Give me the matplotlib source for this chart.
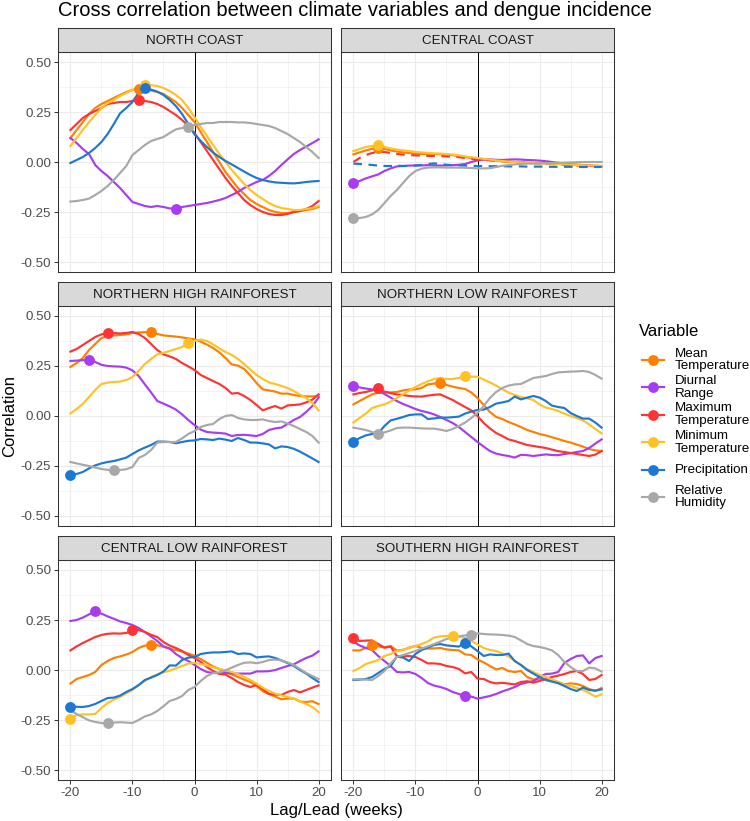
#!/usr/bin/env python3
"""Cross correlation facets: climate variables vs dengue incidence."""

import matplotlib
matplotlib.use("Agg")
import matplotlib.pyplot as plt
from matplotlib.lines import Line2D

W, H, DPI = 750, 821, 100

TITLE = "Cross correlation between climate variables and dengue incidence"
XLABEL = "Lag/Lead (weeks)"
YLABEL = "Correlation"
LEGEND_TITLE = "Variable"

LAGS = list(range(-20, 21))
XTICKS = [-20, -10, 0, 10, 20]
YTICKS = [-0.5, -0.25, 0.0, 0.25, 0.5]

PANELS = ["NORTH COAST", "CENTRAL COAST", "NORTHERN HIGH RAINFOREST",
          "NORTHERN LOW RAINFOREST", "CENTRAL LOW RAINFOREST", "SOUTHERN HIGH RAINFOREST"]
VARIABLES = ["Mean\nTemperature", "Diurnal\nRange", "Maximum\nTemperature",
             "Minimum\nTemperature", "Precipitation", "Relative\nHumidity"]
COLORS = ["#FF7F00", "#A83CF0", "#FF3333", "#FFC125", "#1C78D4", "#A8A8A8"]

# ---- NORTH COAST (lags -20..20)
NC_MEAN = [0.12, 0.16, 0.20, 0.24, 0.27, 0.29, 0.305, 0.32, 0.335, 0.35,
           0.36, 0.365, 0.362, 0.358, 0.35, 0.34, 0.32, 0.30, 0.27, 0.235,
           0.20, 0.15, 0.10, 0.05, 0.0, -0.05, -0.09, -0.13, -0.16, -0.19,
           -0.21, -0.225, -0.24, -0.25, -0.255, -0.255, -0.25, -0.245, -0.24, -0.235, -0.225]
NC_DIURNAL = [0.12, 0.095, 0.065, 0.04, -0.015, -0.045, -0.07, -0.10, -0.13, -0.165,
              -0.20, -0.21, -0.22, -0.225, -0.22, -0.225, -0.232, -0.233, -0.225, -0.22,
              -0.215, -0.21, -0.205, -0.198, -0.19, -0.18, -0.165, -0.15, -0.13, -0.115,
              -0.10, -0.09, -0.07, -0.045, -0.015, 0.013, 0.04, 0.06, 0.077, 0.095, 0.113]
NC_MAX = [0.16, 0.19, 0.22, 0.24, 0.255, 0.27, 0.29, 0.295, 0.30, 0.30,
          0.305, 0.308, 0.305, 0.30, 0.29, 0.275, 0.255, 0.235, 0.21, 0.18,
          0.145, 0.10, 0.055, 0.01, -0.035, -0.08, -0.12, -0.155, -0.19, -0.215,
          -0.235, -0.25, -0.26, -0.265, -0.265, -0.26, -0.25, -0.245, -0.235, -0.22, -0.195]
NC_MIN = [0.08, 0.12, 0.16, 0.20, 0.235, 0.27, 0.295, 0.31, 0.33, 0.345,
          0.36, 0.375, 0.385, 0.384, 0.38, 0.37, 0.355, 0.335, 0.31, 0.27,
          0.225, 0.175, 0.13, 0.085, 0.04, 0.0, -0.04, -0.075, -0.11, -0.14,
          -0.165, -0.185, -0.205, -0.22, -0.23, -0.235, -0.24, -0.24, -0.235, -0.23, -0.22]
NC_PRECIP = [-0.005, 0.01, 0.025, 0.045, 0.07, 0.10, 0.14, 0.19, 0.243, 0.27,
             0.30, 0.347, 0.368, 0.362, 0.352, 0.335, 0.31, 0.28, 0.24, 0.19,
             0.138, 0.105, 0.075, 0.047, 0.025, 0.005, -0.012, -0.03, -0.048, -0.065,
             -0.08, -0.09, -0.097, -0.102, -0.104, -0.106, -0.107, -0.104, -0.1, -0.097, -0.095]
NC_RH = [-0.198, -0.195, -0.19, -0.183, -0.165, -0.145, -0.12, -0.09, -0.055, -0.02,
         0.035, 0.06, 0.085, 0.105, 0.115, 0.125, 0.145, 0.163, 0.17, 0.177,
         0.185, 0.19, 0.195, 0.195, 0.20, 0.20, 0.20, 0.198, 0.198, 0.195,
         0.19, 0.185, 0.18, 0.17, 0.155, 0.14, 0.12, 0.10, 0.075, 0.05, 0.02]

# ---- CENTRAL COAST
CC_MEAN = [0.038, 0.048, 0.058, 0.066, 0.072, 0.065, 0.058, 0.052, 0.048, 0.045,
           0.042, 0.04, 0.04, 0.04, 0.039, 0.037, 0.034, 0.03, 0.025, 0.02,
           0.016, 0.013, 0.01, 0.007, 0.004, 0.002, 0.0, -0.002, -0.003, -0.004,
           -0.005, -0.006, -0.008, -0.01, -0.012, -0.014, -0.016, -0.017, -0.018, -0.019, -0.02]
CC_DIURNAL = [-0.107, -0.095, -0.082, -0.072, -0.062, -0.045, -0.032, -0.022, -0.02, -0.018,
              -0.017, -0.017, -0.016, -0.017, -0.018, -0.017, -0.016, -0.014, -0.01, 0.0,
              0.008, 0.012, 0.013, 0.011, 0.01, 0.012, 0.013, 0.012, 0.01, 0.009,
              0.007, 0.004, 0.0, -0.004, -0.008, -0.011, -0.013, -0.015, -0.017, -0.02, -0.022]
CC_MAX = [0.0, 0.02, 0.035, 0.045, 0.05, 0.05, 0.045, 0.04, 0.037, 0.035,
          0.033, 0.032, 0.03, 0.03, 0.029, 0.028, 0.026, 0.024, 0.02, 0.016,
          0.012, 0.01, 0.008, 0.006, 0.004, 0.002, 0.0, -0.002, -0.004, -0.006,
          -0.007, -0.009, -0.01, -0.012, -0.014, -0.015, -0.017, -0.018, -0.02, -0.021, -0.022]
CC_MIN = [0.055, 0.065, 0.075, 0.08, 0.083, 0.075, 0.068, 0.062, 0.058, 0.055,
          0.05, 0.048, 0.045, 0.043, 0.042, 0.04, 0.037, 0.033, 0.028, 0.024,
          0.02, 0.016, 0.012, 0.008, 0.005, 0.002, 0.0, -0.002, -0.004, -0.005,
          -0.006, -0.008, -0.009, -0.01, -0.012, -0.013, -0.015, -0.016, -0.017, -0.018, -0.02]
CC_PRECIP = [-0.008, -0.01, -0.012, -0.015, -0.018, -0.02, -0.02, -0.018, -0.02, -0.02,
             -0.018, -0.015, -0.01, -0.007, -0.01, -0.014, -0.016, -0.017, -0.018, -0.019,
             -0.02, -0.02, -0.021, -0.021, -0.021, -0.022, -0.022, -0.022, -0.023, -0.023,
             -0.023, -0.023, -0.024, -0.024, -0.024, -0.024, -0.025, -0.025, -0.025, -0.025, -0.025]
CC_RH = [-0.282, -0.28, -0.275, -0.262, -0.24, -0.205, -0.17, -0.14, -0.105, -0.07,
         -0.045, -0.033, -0.028, -0.027, -0.027, -0.028, -0.028, -0.028, -0.029, -0.03,
         -0.032, -0.032, -0.031, -0.025, -0.019, -0.015, -0.012, -0.01, -0.008, -0.008,
         -0.007, -0.007, -0.005, -0.004, -0.003, -0.002, -0.001, 0.0, 0.0, 0.0, 0.0]

# ---- NORTHERN HIGH RAINFOREST
NHR_MEAN = [0.245, 0.265, 0.29, 0.33, 0.36, 0.39, 0.40, 0.403, 0.405, 0.408,
            0.415, 0.418, 0.419, 0.42, 0.41, 0.403, 0.40, 0.397, 0.393, 0.388,
            0.383, 0.372, 0.357, 0.34, 0.318, 0.29, 0.258, 0.252, 0.235, 0.202,
            0.165, 0.133, 0.128, 0.122, 0.112, 0.112, 0.105, 0.1, 0.098, 0.098, 0.1]
NHR_DIURNAL = [0.275, 0.277, 0.279, 0.28, 0.27, 0.256, 0.25, 0.248, 0.247, 0.242,
               0.228, 0.2, 0.158, 0.118, 0.075, 0.062, 0.048, 0.032, 0.008, -0.02,
               -0.045, -0.068, -0.08, -0.083, -0.085, -0.088, -0.1, -0.095, -0.094, -0.097,
               -0.1, -0.09, -0.07, -0.062, -0.058, -0.04, -0.02, -0.005, 0.02, 0.05, 0.092]
NHR_MAX = [0.322, 0.335, 0.355, 0.375, 0.395, 0.408, 0.417, 0.415, 0.413, 0.415,
           0.42, 0.41, 0.39, 0.36, 0.33, 0.308, 0.298, 0.285, 0.265, 0.248,
           0.23, 0.205, 0.19, 0.175, 0.16, 0.14, 0.112, 0.115, 0.1, 0.08,
           0.055, 0.028, 0.04, 0.05, 0.037, 0.053, 0.055, 0.058, 0.068, 0.082, 0.108]
NHR_MIN = [0.013, 0.035, 0.06, 0.095, 0.13, 0.16, 0.167, 0.17, 0.172, 0.18,
           0.195, 0.225, 0.26, 0.285, 0.308, 0.316, 0.325, 0.335, 0.345, 0.363,
           0.375, 0.382, 0.375, 0.358, 0.338, 0.32, 0.305, 0.285, 0.26, 0.232,
           0.205, 0.185, 0.168, 0.16, 0.15, 0.14, 0.125, 0.107, 0.09, 0.065, 0.028]
NHR_PRECIP = [-0.295, -0.29, -0.28, -0.262, -0.247, -0.237, -0.23, -0.225, -0.217, -0.208,
              -0.19, -0.172, -0.158, -0.145, -0.128, -0.128, -0.13, -0.136, -0.13, -0.124,
              -0.122, -0.115, -0.117, -0.12, -0.113, -0.118, -0.125, -0.11, -0.12, -0.133,
              -0.133, -0.137, -0.142, -0.162, -0.152, -0.155, -0.164, -0.178, -0.195, -0.212, -0.23]
NHR_RH = [-0.23, -0.237, -0.244, -0.25, -0.258, -0.265, -0.269, -0.272, -0.27, -0.266,
          -0.255, -0.21, -0.195, -0.17, -0.133, -0.13, -0.13, -0.13, -0.112, -0.09,
          -0.075, -0.055, -0.045, -0.04, -0.015, 0.0, 0.005, -0.01, -0.017, -0.02,
          -0.02, -0.017, -0.025, -0.03, -0.027, -0.038, -0.05, -0.065, -0.08, -0.1, -0.133]

# ---- NORTHERN LOW RAINFOREST
NLR_MEAN = [0.058, 0.075, 0.092, 0.108, 0.117, 0.118, 0.118, 0.12, 0.128, 0.133,
            0.133, 0.14, 0.158, 0.162, 0.165, 0.155, 0.147, 0.14, 0.135, 0.118,
            0.09, 0.055, 0.02, -0.005, -0.015, -0.03, -0.042, -0.055, -0.07, -0.08,
            -0.09, -0.097, -0.106, -0.115, -0.125, -0.133, -0.143, -0.153, -0.165, -0.172, -0.175]
NLR_DIURNAL = [0.15, 0.143, 0.137, 0.133, 0.128, 0.11, 0.092, 0.075, 0.06, 0.048,
               0.035, 0.025, 0.018, 0.008, -0.005, -0.02, -0.035, -0.055, -0.08, -0.105,
               -0.13, -0.153, -0.175, -0.188, -0.195, -0.2, -0.208, -0.194, -0.196, -0.2,
               -0.196, -0.192, -0.195, -0.196, -0.19, -0.186, -0.18, -0.175, -0.16, -0.138, -0.117]
NLR_MAX = [0.108, 0.115, 0.12, 0.128, 0.14, 0.122, 0.114, 0.108, 0.105, 0.1,
           0.098, 0.097, 0.102, 0.106, 0.108, 0.094, 0.08, 0.062, 0.045, 0.028,
           0.0, -0.035, -0.062, -0.085, -0.1, -0.117, -0.125, -0.135, -0.145, -0.15,
           -0.155, -0.16, -0.168, -0.176, -0.18, -0.185, -0.19, -0.195, -0.2, -0.193, -0.175]
NLR_MIN = [-0.033, -0.01, 0.012, 0.04, 0.05, 0.058, 0.072, 0.09, 0.108, 0.128,
           0.145, 0.16, 0.173, 0.185, 0.19, 0.185, 0.185, 0.19, 0.198, 0.197,
           0.196, 0.182, 0.168, 0.152, 0.135, 0.117, 0.105, 0.095, 0.088, 0.08,
           0.058, 0.042, 0.035, 0.025, 0.012, 0.0, -0.01, -0.022, -0.042, -0.065, -0.087]
NLR_PRECIP = [-0.13, -0.11, -0.097, -0.09, -0.087, -0.05, -0.022, -0.014, -0.005, 0.005,
              0.008, 0.008, -0.015, -0.012, -0.008, -0.008, -0.006, -0.003, 0.012, 0.022,
              0.03, 0.032, 0.045, 0.062, 0.068, 0.075, 0.097, 0.083, 0.092, 0.1,
              0.092, 0.075, 0.052, 0.045, 0.04, 0.015, 0.0, -0.013, -0.013, -0.033, -0.058]
NLR_RH = [-0.058, -0.064, -0.07, -0.08, -0.092, -0.082, -0.072, -0.06, -0.058, -0.058,
          -0.06, -0.062, -0.063, -0.063, -0.068, -0.075, -0.065, -0.05, -0.033, -0.01,
          0.015, 0.05, 0.09, 0.12, 0.14, 0.152, 0.158, 0.16, 0.175, 0.19,
          0.195, 0.2, 0.21, 0.218, 0.22, 0.222, 0.223, 0.225, 0.22, 0.205, 0.187]

# ---- CENTRAL LOW RAINFOREST
CLR_MEAN = [-0.068, -0.045, -0.035, -0.025, -0.01, 0.025, 0.045, 0.06, 0.068, 0.077,
            0.09, 0.11, 0.122, 0.125, 0.124, 0.116, 0.106, 0.1, 0.092, 0.082,
            0.072, 0.055, 0.036, 0.018, 0.004, -0.01, -0.022, -0.035, -0.048, -0.06,
            -0.08, -0.106, -0.12, -0.133, -0.146, -0.143, -0.142, -0.158, -0.16, -0.156, -0.17]
CLR_DIURNAL = [0.245, 0.25, 0.262, 0.278, 0.293, 0.282, 0.268, 0.256, 0.243, 0.235,
               0.225, 0.21, 0.19, 0.168, 0.145, 0.118, 0.108, 0.08, 0.06, 0.045,
               0.025, 0.005, -0.01, -0.015, -0.015, -0.015, -0.016, -0.018, -0.018, -0.018,
               -0.007, -0.007, -0.006, 0.0, 0.01, 0.02, 0.028, 0.045, 0.06, 0.072, 0.093]
CLR_MAX = [0.098, 0.118, 0.135, 0.15, 0.165, 0.175, 0.181, 0.183, 0.182, 0.185,
           0.198, 0.2, 0.19, 0.176, 0.165, 0.14, 0.122, 0.11, 0.095, 0.075,
           0.06, 0.04, 0.015, -0.005, -0.02, -0.023, -0.04, -0.06, -0.075, -0.085,
           -0.075, -0.095, -0.12, -0.123, -0.125, -0.11, -0.1, -0.112, -0.1, -0.088, -0.077]
CLR_MIN = [-0.243, -0.225, -0.222, -0.222, -0.22, -0.19, -0.165, -0.148, -0.135, -0.117,
           -0.1, -0.077, -0.055, -0.035, -0.022, -0.012, -0.003, 0.008, 0.02, 0.032,
           0.035, 0.03, 0.022, 0.014, 0.006, -0.002, -0.01, -0.02, -0.035, -0.05,
           -0.068, -0.088, -0.105, -0.118, -0.127, -0.135, -0.142, -0.158, -0.17, -0.185, -0.211]
CLR_PRECIP = [-0.183, -0.184, -0.185, -0.18, -0.17, -0.155, -0.14, -0.138, -0.128, -0.11,
              -0.095, -0.075, -0.05, -0.038, -0.025, -0.007, 0.023, 0.022, 0.05, 0.062,
              0.065, 0.08, 0.085, 0.088, 0.088, 0.09, 0.093, 0.08, 0.083, 0.08,
              0.063, 0.066, 0.068, 0.06, 0.048, 0.035, 0.02, 0.0, -0.018, -0.04, -0.06]
CLR_RH = [-0.203, -0.22, -0.236, -0.252, -0.26, -0.265, -0.266, -0.263, -0.261, -0.263,
          -0.265, -0.25, -0.232, -0.222, -0.205, -0.181, -0.155, -0.145, -0.13, -0.1,
          -0.085, -0.055, -0.03, -0.015, -0.012, -0.002, 0.012, 0.025, 0.036, 0.038,
          0.034, 0.04, 0.05, 0.052, 0.048, 0.038, 0.025, 0.005, -0.015, -0.03, -0.045]

# ---- SOUTHERN HIGH RAINFOREST
SHR_MEAN = [0.098, 0.098, 0.11, 0.123, 0.118, 0.112, 0.12, 0.098, 0.1, 0.112,
            0.12, 0.11, 0.107, 0.108, 0.11, 0.103, 0.1, 0.098, 0.078, 0.075,
            0.053, 0.038, 0.02, 0.003, 0.01, -0.005, -0.01, -0.005, -0.035, -0.047,
            -0.047, -0.045, -0.05, -0.06, -0.072, -0.067, -0.07, -0.08, -0.095, -0.105, -0.09]
SHR_DIURNAL = [0.14, 0.123, 0.11, 0.1, 0.07, 0.045, 0.02, -0.01, -0.012, -0.01,
               -0.02, -0.04, -0.065, -0.078, -0.085, -0.095, -0.11, -0.12, -0.13, -0.133,
               -0.143, -0.137, -0.13, -0.12, -0.107, -0.097, -0.085, -0.07, -0.062, -0.055,
               -0.035, -0.02, -0.018, -0.01, 0.035, 0.055, 0.07, 0.073, 0.033, 0.06, 0.07]
SHR_MAX = [0.158, 0.145, 0.147, 0.148, 0.13, 0.112, 0.117, 0.07, 0.068, 0.07,
           0.065, 0.05, 0.033, 0.033, 0.03, 0.02, 0.015, 0.005, -0.017, -0.01,
           -0.043, -0.045, -0.06, -0.067, -0.064, -0.068, -0.072, -0.06, -0.056, -0.063,
           -0.055, -0.045, -0.035, -0.028, -0.02, -0.01, -0.005, -0.02, -0.05, -0.045, -0.025]
SHR_MIN = [-0.005, 0.01, 0.03, 0.04, 0.05, 0.07, 0.08, 0.095, 0.102, 0.11,
           0.12, 0.13, 0.143, 0.162, 0.168, 0.17, 0.172, 0.168, 0.16, 0.145,
           0.128, 0.11, 0.1, 0.095, 0.083, 0.068, 0.045, 0.025, 0.005, -0.01,
           -0.025, -0.035, -0.047, -0.06, -0.073, -0.08, -0.09, -0.1, -0.115, -0.133, -0.122]
SHR_PRECIP = [-0.05, -0.048, -0.045, -0.035, -0.015, 0.005, 0.02, 0.067, 0.062, 0.045,
              0.08, 0.1, 0.112, 0.125, 0.13, 0.123, 0.12, 0.117, 0.137, 0.118,
              0.095, 0.07, 0.078, 0.075, 0.075, 0.082, 0.045, 0.025, 0.0, -0.018,
              -0.035, -0.05, -0.058, -0.066, -0.08, -0.095, -0.105, -0.088, -0.1, -0.103, -0.097]
SHR_RH = [-0.047, -0.045, -0.048, -0.05, -0.03, -0.005, 0.033, 0.065, 0.075, 0.085,
          0.095, 0.107, 0.118, 0.13, 0.142, 0.155, 0.163, 0.168, 0.173, 0.177,
          0.183, 0.18, 0.178, 0.177, 0.175, 0.172, 0.165, 0.148, 0.13, 0.12,
          0.115, 0.108, 0.098, 0.075, 0.04, 0.015, -0.005, -0.005, 0.012, 0.008, -0.008]

# lag of the highlighted point per variable (None = no point)
NC_PEAKS = [-9, -3, -9, -8, -8, -1]
CC_PEAKS = [-16, -20, None, -16, None, -20]
NHR_PEAKS = [-7, -17, -14, -1, -20, -13]
NLR_PEAKS = [-6, -20, -16, -2, -20, -16]
CLR_PEAKS = [-7, -16, -10, -20, -20, -14]
SHR_PEAKS = [-17, -2, -20, -4, -2, -1]

# series drawn dashed (panel, variable index)
DASHED = {("CENTRAL COAST", 2), ("CENTRAL COAST", 4)}

SERIES = [
    [NC_MEAN, NC_DIURNAL, NC_MAX, NC_MIN, NC_PRECIP, NC_RH],
    [CC_MEAN, CC_DIURNAL, CC_MAX, CC_MIN, CC_PRECIP, CC_RH],
    [NHR_MEAN, NHR_DIURNAL, NHR_MAX, NHR_MIN, NHR_PRECIP, NHR_RH],
    [NLR_MEAN, NLR_DIURNAL, NLR_MAX, NLR_MIN, NLR_PRECIP, NLR_RH],
    [CLR_MEAN, CLR_DIURNAL, CLR_MAX, CLR_MIN, CLR_PRECIP, CLR_RH],
    [SHR_MEAN, SHR_DIURNAL, SHR_MAX, SHR_MIN, SHR_PRECIP, SHR_RH],
]
PEAKS = [NC_PEAKS, CC_PEAKS, NHR_PEAKS, NLR_PEAKS, CLR_PEAKS, SHR_PEAKS]

for group in SERIES:
    for s in group:
        assert len(s) == len(LAGS)

plt.rcParams["font.family"] = ["Liberation Sans", "DejaVu Sans"]

# layout in pixels
COL_LEFT = [58, 341]
PANEL_W = 273
STRIP_TOP = [28, 282, 536]
STRIP_H = 24
PANEL_H = 220
DARK = "#333333"
SMALL = 9.6   # tick / strip / legend text
LARGE = 12.0  # axis titles


def box(left, top, width, height):
    return [left / W, 1 - (top + height) / H, width / W, height / H]


fig = plt.figure(figsize=(W / DPI, H / DPI), dpi=DPI)

for i, name in enumerate(PANELS):
    row, col = divmod(i, 2)
    ax = fig.add_axes(box(COL_LEFT[col], STRIP_TOP[row] + STRIP_H, PANEL_W, PANEL_H))
    strip = fig.add_axes(box(COL_LEFT[col], STRIP_TOP[row], PANEL_W, STRIP_H))

    strip.set_facecolor("#D9D9D9")
    strip.set_xticks([])
    strip.set_yticks([])
    for sp in strip.spines.values():
        sp.set_color(DARK)
        sp.set_linewidth(0.75)
    strip.text(0.5, 0.47, name, ha="center", va="center", fontsize=SMALL,
               color="#1A1A1A", transform=strip.transAxes)

    ax.set_xlim(-22, 22)
    ax.set_ylim(-0.55, 0.55)
    ax.set_xticks(XTICKS)
    ax.set_xticklabels([f"{v}" for v in XTICKS])
    ax.set_xticks([-15, -5, 5, 15], minor=True)
    ax.set_yticks(YTICKS)
    ax.set_yticklabels([f"{v:.2f}" for v in YTICKS])
    ax.set_yticks([-0.375, -0.125, 0.125, 0.375], minor=True)
    ax.grid(which="major", color="#EBEBEB", linewidth=0.8)
    ax.grid(which="minor", color="#EBEBEB", linewidth=0.4)
    ax.set_axisbelow(True)
    ax.tick_params(which="minor", length=0)
    ax.tick_params(which="major", length=2.75, width=0.7, color=DARK,
                   labelsize=SMALL, labelcolor="#4D4D4D", pad=2.2)
    if col != 0:
        ax.tick_params(axis="y", left=False, labelleft=False)
    if row != 2:
        ax.tick_params(axis="x", bottom=False, labelbottom=False)
    for sp in ax.spines.values():
        sp.set_color(DARK)
        sp.set_linewidth(0.75)

    ax.axvline(0, color="black", linewidth=0.7, zorder=1.5)

    for j, values in enumerate(SERIES[i]):
        ls = (0, (4, 3)) if (name, j) in DASHED else "-"
        ax.plot(LAGS, values, color=COLORS[j], linewidth=1.55, linestyle=ls, zorder=2)
    for j, values in enumerate(SERIES[i]):
        lag = PEAKS[i][j]
        if lag is None:
            continue
        ax.plot([lag], [values[LAGS.index(lag)]], "o", color=COLORS[j],
                markersize=7.8, markeredgewidth=0, zorder=3)

fig.text(58 / W, 1 - 16.5 / H, TITLE, fontsize=14.5, ha="left", va="baseline")
fig.text(10 / W, 1 - 416 / H, YLABEL, fontsize=LARGE, rotation=90, ha="center", va="center")
fig.text(336 / W, 1 - 815 / H, XLABEL, fontsize=LARGE, ha="center", va="baseline")

# legend drawn by hand to mimic ggplot's key layout
fig.text(639 / W, 1 - 336 / H, LEGEND_TITLE, fontsize=LARGE, ha="left", va="baseline")
for j, label in enumerate(VARIABLES):
    yc = 1 - (360 + 27.4 * j) / H
    fig.add_artist(Line2D([642 / W, 664 / W], [yc, yc], color=COLORS[j],
                          linewidth=1.55, transform=fig.transFigure))
    fig.add_artist(Line2D([653 / W], [yc], marker="o", markersize=7.8,
                          markeredgewidth=0, color=COLORS[j], transform=fig.transFigure))
    fig.text(675 / W, yc, label, fontsize=SMALL, ha="left", va="center", linespacing=1.1)

fig.savefig("out.png", dpi=DPI)
